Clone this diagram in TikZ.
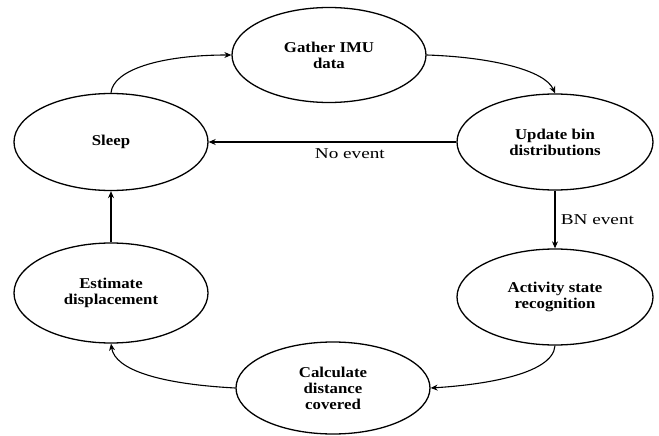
\documentclass[tikz,border=0pt]{standalone}
\usepackage{fontspec}
\setmainfont[FakeStretch=1.12]{Liberation Serif}
\newfontfamily\edgefont[FakeStretch=1.28]{Liberation Serif}
\usetikzlibrary{shapes.geometric,arrows.meta}
\begin{document}
\begin{tikzpicture}[x=1pt,y=-1pt,
  state/.style={ellipse,draw,line width=1.3pt,minimum width=#1,inner sep=0pt,
    font=\fontsize{15}{16}\selectfont\bfseries,align=center},
  state/.default=194pt,
  flow/.style={draw,line width=1.1pt,-{Stealth[length=7pt,width=6pt]}},
  lbl/.style={font=\edgefont\fontsize{15}{16}\selectfont}]
\useasboundingbox (0,0) rectangle (659,436);
\fill[white] (0,0) rectangle (659,436);
\node[state,minimum height=95pt] (gather) at (329,55) {Gather IMU\\data};
\node[state,minimum height=96pt,minimum width=196pt] (update) at (555,142) {Update bin\\distributions};
\node[state,minimum height=97pt] (sleep) at (111,142) {Sleep};
\node[state,minimum height=96pt,minimum width=196pt] (activity) at (555,297) {Activity state\\recognition};
\node[state,minimum height=100pt] (estimate) at (111,293) {Estimate\\displacement};
\node[state,minimum height=92pt] (calc) at (333,388) {Calculate\\distance\\covered};

\draw[flow] (sleep.north) .. controls (113,70) and (160,55) .. (gather.west);
\draw[flow] (gather.east) .. controls (490,57) and (545,70) .. (update.north);
\draw[flow] (update.west) -- node[lbl,below=3pt,pos=0.43] {No event} (sleep.east);
\draw[flow] (update.south) -- node[lbl,right=2pt] {BN event} (activity.north);
\draw[flow] (activity.south) .. controls (553,375) and (480,385) .. (calc.east);
\draw[flow] (calc.west) .. controls (160,384) and (115,370) .. (estimate.south);
\draw[flow] (estimate.north) -- (sleep.south);
\end{tikzpicture}
\end{document}
